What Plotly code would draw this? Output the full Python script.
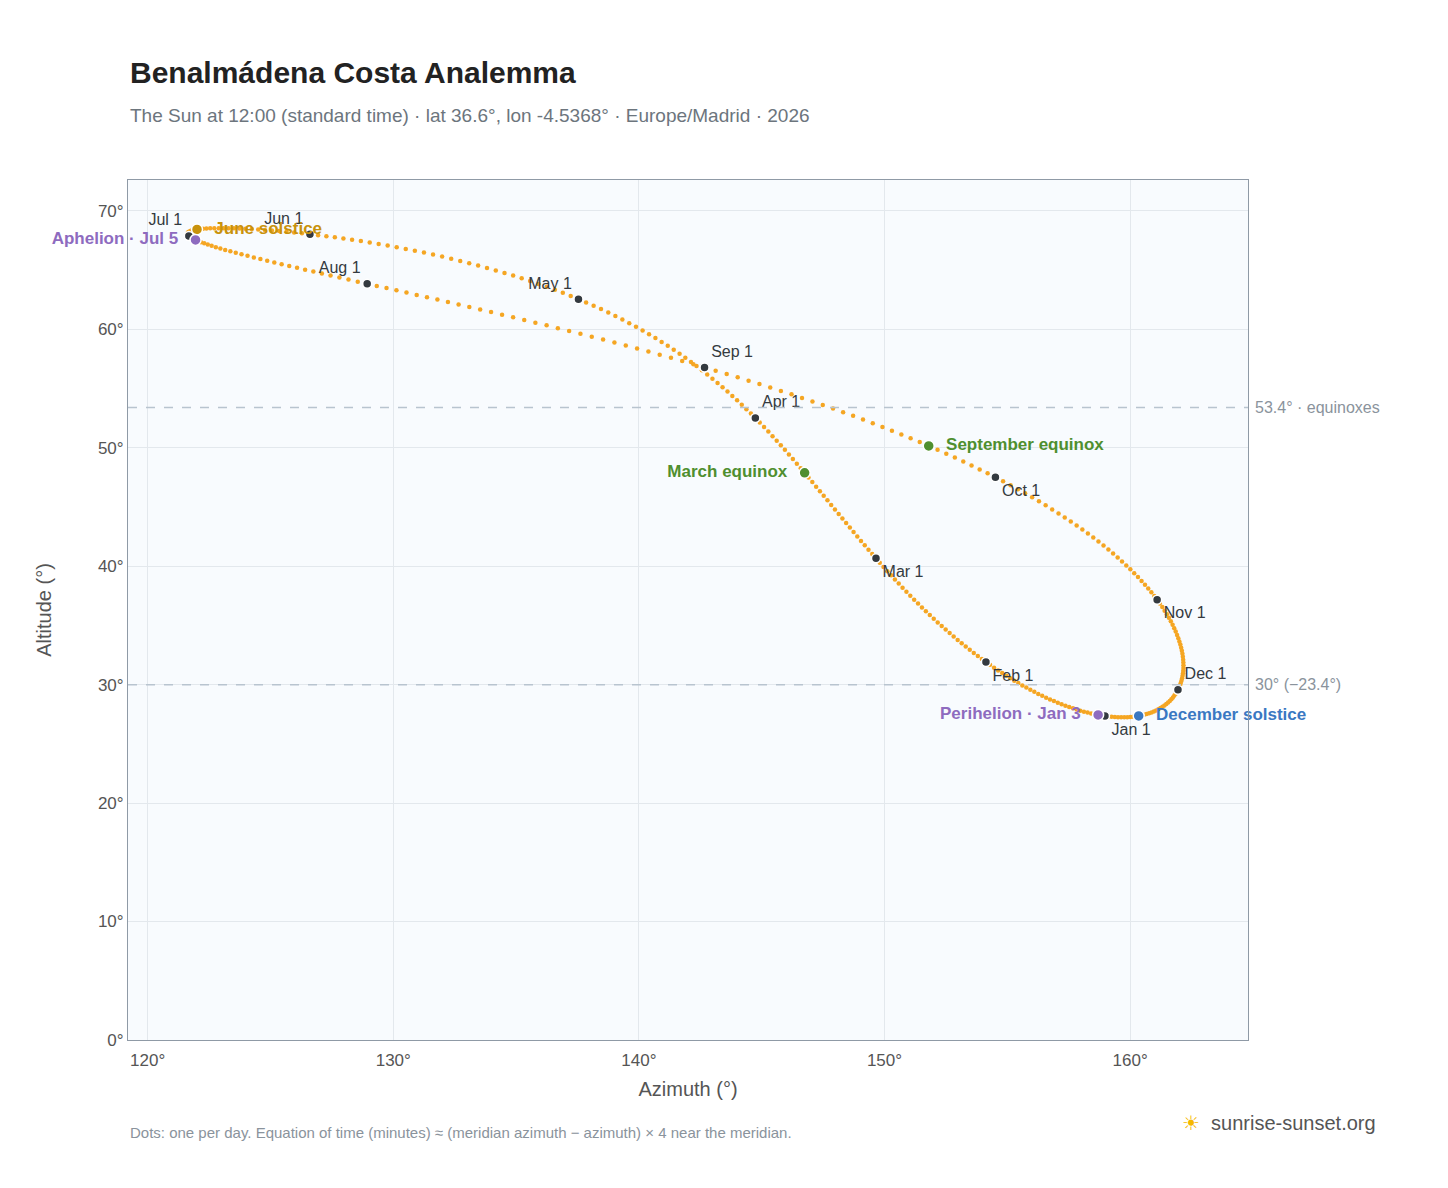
import numpy as np, datetime as dt
import plotly.graph_objects as go

LAT, LON, TZ, YEAR = 36.6, -4.5368, 1, 2026
month_labels = ["Jan 1","Feb 1","Mar 1","Apr 1","May 1","Jun 1","Jul 1","Aug 1","Sep 1","Oct 1","Nov 1","Dec 1"]
month_pos = ["bottom right","bottom right","bottom right","top right","top left","top left","top left","top left","top right","bottom right","bottom right","top right"]
event_names = ["Perihelion · Jan 3","March equinox","June solstice","Aphelion · Jul 5","September equinox","December solstice"]
event_dates = [(1,3),(3,20),(6,21),(7,5),(9,23),(12,21)]
event_colors = ["#8e6bbf","#4f8f2f","#c8920c","#8e6bbf","#4f8f2f","#3a78c2"]
event_pos = ["middle left","middle left","middle right","middle left","middle right","middle right"]

def sunpos(doy, hour=12.0):
    g = 2*np.pi/365*(doy-1+(hour-12)/24)
    eq = 229.18*(0.000075+0.001868*np.cos(g)-0.032077*np.sin(g)-0.014615*np.cos(2*g)-0.040849*np.sin(2*g))
    d = (0.006918-0.399912*np.cos(g)+0.070257*np.sin(g)-0.006758*np.cos(2*g)+0.000907*np.sin(2*g)
         -0.002697*np.cos(3*g)+0.00148*np.sin(3*g))
    tst = hour*60+eq+4*LON-60*TZ
    H = np.radians(tst/4-180)
    p = np.radians(LAT)
    alt = np.degrees(np.arcsin(np.sin(p)*np.sin(d)+np.cos(p)*np.cos(d)*np.cos(H)))
    az = 180+np.degrees(np.arctan2(np.sin(H), np.cos(H)*np.sin(p)-np.tan(d)*np.cos(p)))
    return az, alt

days = np.arange(1, 366)
az, alt = sunpos(days)
mdoy = [dt.date(YEAR, m, 1).timetuple().tm_yday for m in range(1, 13)]
maz, malt = sunpos(np.array(mdoy))
edoy = [dt.date(YEAR, m, d).timetuple().tm_yday for m, d in event_dates]
eaz, ealt = sunpos(np.array(edoy))

fig = go.Figure()
fig.add_trace(go.Scatter(x=az, y=alt, mode="markers", marker=dict(size=4.5, color="#f5a623"), hoverinfo="skip"))
fig.add_trace(go.Scatter(x=maz, y=malt, mode="markers+text", text=month_labels, textposition=month_pos,
    marker=dict(size=9, color="#343a40", line=dict(color="white", width=1.5)), cliponaxis=False,
    textfont=dict(size=16, color="#343a40")))
for x, y, n, c, p in zip(eaz, ealt, event_names, event_colors, event_pos):
    fig.add_trace(go.Scatter(x=[x], y=[y], mode="markers+text", text=["  "+n+"  "], textposition=p,
        marker=dict(size=11, color=c, line=dict(color="white", width=1.5)), cliponaxis=False,
        textfont=dict(size=17, color=c, family="Liberation Sans, Arial", weight="bold")))

for yv, lab in [(53.4, "53.4° · equinoxes"), (30, "30° (−23.4°)")]:
    fig.add_hline(y=yv, line=dict(color="#b8c4cf", dash="dash", width=1.5))
    fig.add_annotation(x=1, xref="paper", y=yv, text=lab, showarrow=False, xanchor="left", xshift=5,
                       font=dict(size=16, color="#8a939c"))

fig.update_layout(
    width=1448, height=1188, showlegend=False,
    paper_bgcolor="white", plot_bgcolor="#f8fbfe",
    font=dict(family="Liberation Sans, Arial", size=17, color="#555"),
    margin=dict(l=120, r=208, t=172, b=156),
    title=dict(text="<b>Benalmádena Costa Analemma</b><br><span style='font-size:19px;color:#6c757d'>The Sun at 12:00 (standard time) · lat 36.6°, lon -4.5368° · Europe/Madrid · 2026</span>",
               x=122/1448, xanchor="left", y=0.937, yanchor="top", font=dict(size=30, color="#222")),
    xaxis=dict(range=[119.2, 164.8], dtick=10, ticksuffix="°", gridcolor="#e3e8ed",
               title=dict(text="Azimuth (°)", standoff=12),
               showline=True, linecolor="#8f9aa6", mirror=True, zeroline=False, ticks="outside", tickcolor="white"),
    yaxis=dict(range=[0, 72.6], dtick=10, ticksuffix="°", gridcolor="#e3e8ed",
               title=dict(text="Altitude (°)", standoff=40),
               showline=True, linecolor="#8f9aa6", mirror=True, zeroline=False),
)
fig.add_annotation(x=0, xref="paper", y=-0.12, yref="paper", xanchor="left", showarrow=False,
    text="Dots: one per day. Equation of time (minutes) ≈ (meridian azimuth − azimuth) × 4 near the meridian.",
    font=dict(size=15, color="#8a939c"))
fig.add_annotation(x=(1378-128)/1120, xref="paper", y=-0.112, yref="paper", showarrow=False, xanchor="right",
    text="<span style='color:#f5b800'>☀</span>  sunrise-sunset.org", font=dict(size=20, color="#555"))
fig.write_html("out.html")
